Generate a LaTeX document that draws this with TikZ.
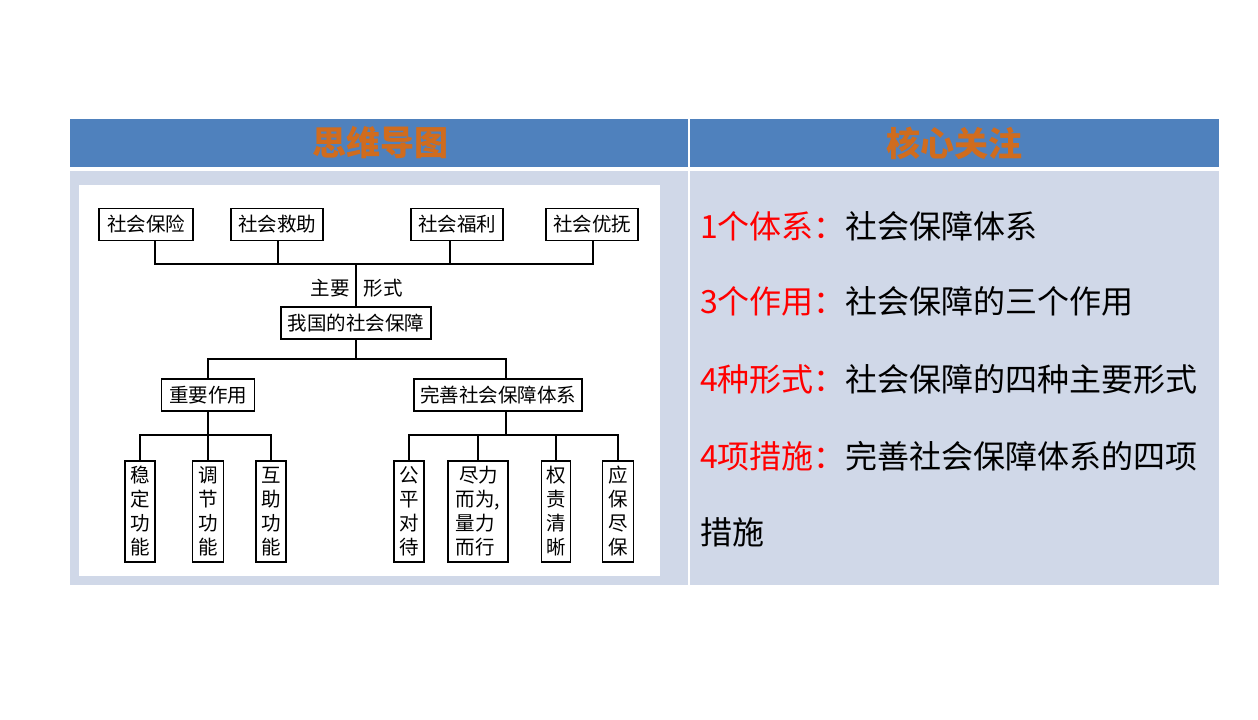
\documentclass[tikz,border=0pt]{standalone}
\usepackage{fontspec}
\setmainfont{Noto Sans CJK SC}
\begin{document}
\begin{tikzpicture}[x=1pt,y=-1pt,
  hb/.style={draw,line width=1.4pt,fill=white,inner sep=0pt,font=\fontsize{19.5}{21}\selectfont,minimum height=32pt},
  vb/.style={draw,line width=1.4pt,fill=white,inner sep=0pt,align=center,font=\fontsize{19.5}{24}\selectfont,minimum height=101pt},
  conn/.style={line width=1.4pt},
  lbl/.style={inner sep=0pt,font=\fontsize{19.5}{21}\selectfont},
  rt/.style={anchor=west,inner sep=0pt,font=\fontsize{32}{34}\selectfont},
  hd/.style={inner sep=0pt,font=\fontsize{34}{36}\selectfont\bfseries,text=heador}]
\definecolor{headblue}{HTML}{4F81BD}
\definecolor{bodyblue}{HTML}{D0D8E8}
\definecolor{heador}{HTML}{D06C1E}
\definecolor{redt}{HTML}{FF0000}
\useasboundingbox (0,0) rectangle (1258,720);
\fill[white] (0,0) rectangle (1258,720);
% table
\fill[headblue] (70,119) rectangle (688,167);
\fill[headblue] (690,119) rectangle (1219,167);
\fill[bodyblue] (70,171) rectangle (688,585);
\fill[bodyblue] (690,171) rectangle (1219,585);
\node[hd] (h1) at (380,143) {思维导图};
\node[hd] (h2) at (954,143) {核心关注};
% diagram background
\fill[white] (79,185) rectangle (660,576);
% top boxes
\node[hb,minimum width=94pt] (s1) at (146,224.5) {社会保险};
\node[hb,minimum width=92pt] (s2) at (277,224.5) {社会救助};
\node[hb,minimum width=92pt] (s3) at (457,224.5) {社会福利};
\node[hb,minimum width=92pt] (s4) at (592,224.5) {社会优抚};
\coordinate (b1) at (155,264);
\coordinate (b2) at (278,264);
\coordinate (b3) at (450,264);
\coordinate (b4) at (593,264);
\node[hb,minimum width=150pt] (root) at (356,323) {我国的社会保障};
\draw[conn] (s1.south -| b1) -- (b1) -- (b4) -- (s4.south -| b4);
\draw[conn] (s2.south -| b2) -- (b2);
\draw[conn] (s3.south -| b3) -- (b3);
\draw[conn] (root.north) -- (root.north |- b1);
\node[lbl] (l1) at (330,288) {主要};
\node[lbl] (l2) at (383,288) {形式};
% middle
\node[hb,minimum width=93pt] (zy) at (208,395) {重要作用};
\node[hb,minimum width=168pt] (ws) at (498,395) {完善社会保障体系};
\coordinate (m1) at (208,359);
\coordinate (m2) at (506,359);
\coordinate (mc) at (356,359);
\draw[conn] (root.south) -- (mc);
\draw[conn] (zy.north) -- (m1) -- (m2) -- (ws.north -| m2);
% lower left
\node[vb,minimum width=30pt] (v1) at (140,511.5) {稳\\定\\功\\能};
\node[vb,minimum width=31pt] (v2) at (208,511.5) {调\\节\\功\\能};
\node[vb,minimum width=30pt] (v3) at (271,511.5) {互\\助\\功\\能};
\coordinate (L) at (208,435);
\draw[conn] (zy.south) -- (L);
\draw[conn] (v1.north) |- (L) -| (v3.north);
\draw[conn] (v2.north) -- (v2.north |- L);
% lower right
\node[vb,minimum width=60pt,align=left] (w2) at (478,511.5) {\,尽力\\而为,\\量力\\而行};
\node[vb,minimum width=30pt] (w1) at (409,511.5) {公\\平\\对\\待};
\node[vb,minimum width=29pt] (w3) at (556,511.5) {权\\责\\清\\晰};
\node[vb,minimum width=31pt] (w4) at (618,511.5) {应\\保\\尽\\保};
\coordinate (R) at (506,435);
\draw[conn] (ws.south -| R) -- (R);
\draw[conn] (w1.north) |- (R) -| (w4.north);
\draw[conn] (w2.north) -- (w2.north |- R);
\draw[conn] (w3.north) -- (w3.north |- R);
% right column
\node[rt] (r1) at (700,226) {\textcolor{redt}{1个体系：}社会保障体系};
\node[rt] (r2) at (700,301) {\textcolor{redt}{3个作用：}社会保障的三个作用};
\node[rt] (r3) at (700,379) {\textcolor{redt}{4种形式：}社会保障的四种主要形式};
\node[rt] (r4) at (700,456) {\textcolor{redt}{4项措施：}完善社会保障体系的四项};
\node[rt] (r5) at (700,532) {措施};
\end{tikzpicture}
\end{document}
